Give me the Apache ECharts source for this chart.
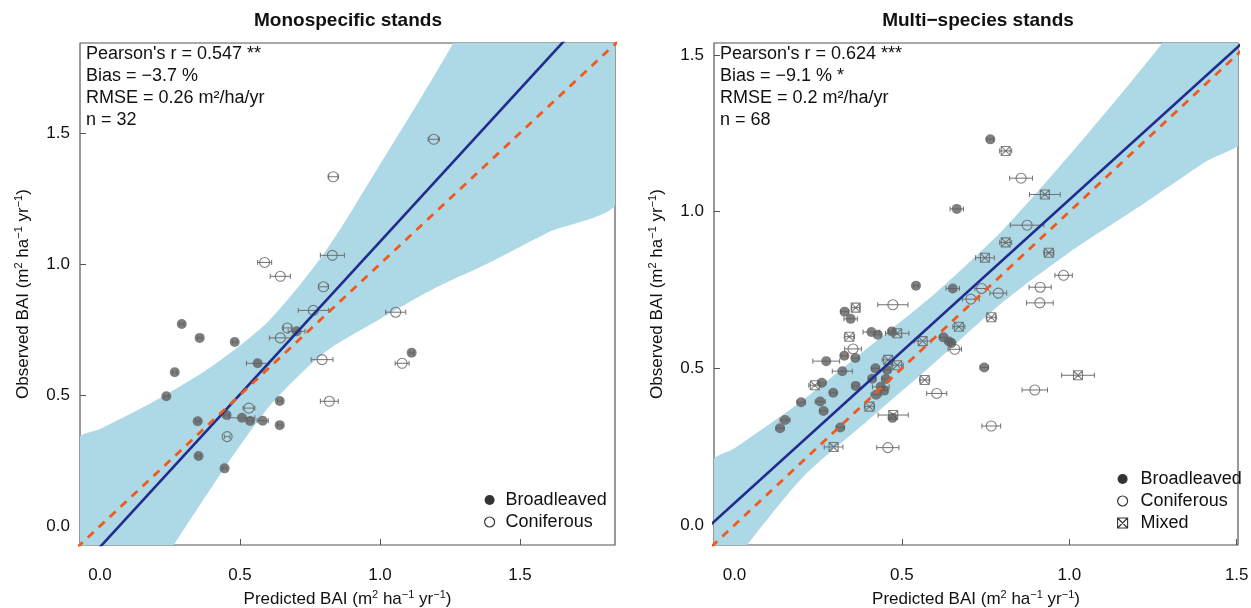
<!DOCTYPE html>
<html>
<head>
<meta charset="utf-8">
<script src="https://cdn.jsdelivr.net/npm/echarts@6/dist/echarts.min.js"></script>
<style>
  html, body { margin: 0; padding: 0; background: #fff; }
  #chart { width: 1251px; height: 608px; }
</style>
</head>
<body>
<div id="chart"></div>
<script>
// ---- Monospecific stands: [predicted, observed, half-width of predicted range]
const monoBroadleaved = [
  [0.292,0.771,0.008],[0.356,0.718,0.008],[0.481,0.702,0.008],[0.267,0.587,0.008],
  [0.237,0.495,0.008],[0.563,0.621,0.040],[0.702,0.743,0.030],[0.642,0.477,0.008],
  [0.642,0.385,0.008],[0.452,0.424,0.010],[0.349,0.400,0.008],[0.507,0.413,0.046],
  [0.536,0.401,0.010],[0.581,0.402,0.020],[0.352,0.267,0.008],[0.445,0.220,0.008],
  [1.113,0.661,0.008]
];
const monoConiferous = [
  [0.588,1.006,0.025],[0.644,0.953,0.036],[0.830,1.033,0.043],[0.798,0.913,0.018],
  [0.762,0.823,0.054],[0.669,0.756,0.014],[0.644,0.718,0.039],[0.793,0.635,0.039],
  [0.819,0.476,0.032],[0.532,0.450,0.021],[0.454,0.341,0.010],[1.192,1.476,0.020],
  [0.833,1.333,0.018],[1.056,0.816,0.036],[1.079,0.621,0.025]
];
// ---- Multi-species stands
const multiBroadleaved = [
  [0.764,1.231,0.010],[0.664,1.009,0.020],[0.542,0.764,0.008],[0.652,0.755,0.020],
  [0.329,0.681,0.012],[0.347,0.658,0.020],[0.409,0.616,0.025],[0.428,0.607,0.010],
  [0.470,0.618,0.010],[0.624,0.599,0.012],[0.641,0.586,0.012],[0.648,0.581,0.010],
  [0.328,0.540,0.010],[0.361,0.533,0.010],[0.274,0.523,0.040],[0.322,0.491,0.030],
  [0.421,0.500,0.012],[0.456,0.495,0.010],[0.411,0.467,0.010],[0.452,0.466,0.012],
  [0.261,0.454,0.012],[0.362,0.444,0.010],[0.437,0.441,0.025],[0.447,0.429,0.010],
  [0.295,0.422,0.010],[0.423,0.416,0.015],[0.199,0.392,0.012],[0.256,0.394,0.015],
  [0.266,0.364,0.012],[0.472,0.342,0.010],[0.316,0.311,0.012],[0.746,0.503,0.012],
  [0.151,0.335,0.015],[0.136,0.309,0.012]
];
const multiConiferous = [
  [0.473,0.703,0.045],[0.738,0.755,0.020],[0.788,0.740,0.025],[0.706,0.721,0.025],
  [0.658,0.561,0.020],[0.354,0.562,0.025],[0.604,0.420,0.030],[0.767,0.316,0.028],
  [0.458,0.247,0.033],[0.856,1.107,0.034],[0.874,0.957,0.050],[0.983,0.797,0.026],
  [0.913,0.759,0.033],[0.912,0.709,0.040],[0.897,0.431,0.038]
];
const multiMixed = [
  [0.362,0.694,0.012],[0.343,0.601,0.015],[0.486,0.612,0.035],[0.562,0.587,0.025],
  [0.459,0.527,0.018],[0.486,0.510,0.018],[0.240,0.446,0.018],[0.568,0.463,0.015],
  [0.670,0.633,0.018],[0.767,0.663,0.015],[0.403,0.378,0.015],[0.474,0.351,0.045],
  [0.296,0.249,0.028],[0.810,1.194,0.018],[0.927,1.055,0.046],[0.810,0.902,0.018],
  [0.939,0.869,0.015],[0.748,0.853,0.028],[1.026,0.478,0.049]
];

// Fitted lines (observed vs predicted) and confidence bands
const monoFit = [[-0.10,-0.197],[1.90,2.134]];
const multiFit = [[-0.10,-0.027],[1.60,1.619]];
const oneToOne = [[-0.2,-0.2],[2.0,2.0]];

const monoBandX     = [-0.08, 0.00, 0.20, 0.40, 0.60, 0.80, 1.00, 1.20, 1.40, 1.60, 1.85];
const monoBandLower = [-0.67,-0.55,-0.18, 0.15, 0.45, 0.66, 0.79, 0.91, 1.01, 1.12, 1.245];
const monoBandUpper = [ 0.33, 0.37, 0.48, 0.61, 0.78, 1.04, 1.38, 1.73, 2.10, 2.50, 2.90];

const multiBandX     = [-0.07, 0.00, 0.20, 0.40, 0.60, 0.80, 1.00, 1.20, 1.40, 1.55];
const multiBandLower = [-0.215,-0.115,0.148,0.335,0.520,0.710,0.870,1.010,1.155,1.255];
const multiBandUpper = [ 0.200, 0.245,0.395,0.567,0.740,0.940,1.180,1.435,1.700,1.900];

const tickValues = [0, 0.5, 1.0, 1.5];

const statsMono = ["Pearson's r = 0.547 **", 'Bias = \u22123.7 %', 'RMSE = 0.26 m\u00b2/ha/yr', 'n = 32'];
const statsMulti = ["Pearson's r = 0.624 ***", 'Bias = \u22129.1 % *', 'RMSE = 0.2 m\u00b2/ha/yr', 'n = 68'];

const FONT = '"Liberation Sans", Arial, Helvetica, sans-serif';
const GREY = '#606060';
const BAR_GREY = '#707070';
const BAND = '#ADD8E6';
const BLUE = '#202C8E';
const ORANGE = '#F2581A';
const MIXED_PATH = 'path://M0,0L10,0L10,10L0,10Z M0,0L10,10 M10,0L0,10';

const chart = echarts.init(document.getElementById('chart'), null, { renderer: 'canvas' });

function bandSeries(xs, lo, hi, idx) {
  return {
    type: 'custom', xAxisIndex: idx, yAxisIndex: idx, clip: true, silent: true, z: 1,
    data: xs.map((x, i) => [x, lo[i], hi[i]]),
    renderItem: function (params, api) {
      if (params.dataIndex !== 0) return null;
      const pts = [];
      for (let i = 0; i < xs.length; i++) pts.push(api.coord([xs[i], hi[i]]));
      for (let i = xs.length - 1; i >= 0; i--) pts.push(api.coord([xs[i], lo[i]]));
      return { type: 'polygon', shape: { points: pts, smooth: 0.25 }, style: { fill: BAND } };
    }
  };
}

function errorBarSeries(points, idx) {
  return {
    type: 'custom', xAxisIndex: idx, yAxisIndex: idx, silent: true, z: 3,
    data: points,
    renderItem: function (params, api) {
      const x = api.value(0), y = api.value(1), e = api.value(2);
      const a = api.coord([x - e, y]), b = api.coord([x + e, y]);
      const s = { stroke: BAR_GREY, lineWidth: 1 };
      return {
        type: 'group', children: [
          { type: 'line', shape: { x1: a[0], y1: a[1], x2: b[0], y2: b[1] }, style: s },
          { type: 'line', shape: { x1: a[0], y1: a[1] - 2.5, x2: a[0], y2: a[1] + 2.5 }, style: s },
          { type: 'line', shape: { x1: b[0], y1: b[1] - 2.5, x2: b[0], y2: b[1] + 2.5 }, style: s }
        ]
      };
    }
  };
}

function pointSeries(name, points, idx, kind) {
  const base = {
    name: name, type: 'scatter', xAxisIndex: idx, yAxisIndex: idx, z: 4,
    data: points.map(p => [p[0], p[1]])
  };
  if (kind === 'filled') {
    base.symbol = 'circle'; base.symbolSize = 10;
    base.itemStyle = { color: GREY };
  } else if (kind === 'open') {
    base.symbol = 'circle'; base.symbolSize = 10;
    base.itemStyle = { color: 'rgba(0,0,0,0)', borderColor: GREY, borderWidth: 1.1 };
  } else {
    base.symbol = MIXED_PATH; base.symbolSize = 9;
    base.itemStyle = { color: 'rgba(0,0,0,0)', borderColor: GREY, borderWidth: 1.1 };
  }
  base.emphasis = { disabled: true };
  return base;
}

function lineSeries(data, idx, color, dashed) {
  return {
    type: 'line', xAxisIndex: idx, yAxisIndex: idx, data: data, symbol: 'none',
    silent: true, z: 5, clip: true,
    lineStyle: dashed ? { color: color, width: 2.8, type: [8, 7] } : { color: color, width: 2.6 }
  };
}

const supRich = { sup: { fontSize: 11, verticalAlign: 'top', color: '#111', fontFamily: FONT, lineHeight: 20 } };

function xAxisCfg(idx, min, max) {
  return {
    type: 'value', gridIndex: idx, min: min, max: max,
    axisLine: { show: false, onZero: false }, splitLine: { show: false },
    axisTick: { show: true, inside: true, length: 6, customValues: tickValues, lineStyle: { color: '#555', width: 1 } },
    axisLabel: { customValues: tickValues, formatter: v => v.toFixed(1), fontSize: 17, color: '#111', fontFamily: FONT, margin: 22 },
    name: 'Predicted BAI (m{sup|2} ha{sup|\u22121} yr{sup|\u22121})',
    nameLocation: 'middle', nameGap: 44,
    nameTextStyle: { fontSize: 17, color: '#111', fontFamily: FONT, lineHeight: 20, rich: supRich }
  };
}
function yAxisCfg(idx, min, max) {
  return {
    type: 'value', gridIndex: idx, min: min, max: max,
    axisLine: { show: false, onZero: false }, splitLine: { show: false },
    axisTick: { show: true, inside: true, length: 6, customValues: tickValues, lineStyle: { color: '#555', width: 1 } },
    axisLabel: { customValues: tickValues, formatter: v => v.toFixed(1), fontSize: 17, color: '#111', fontFamily: FONT, margin: 10 },
    name: 'Observed BAI (m{sup|2} ha{sup|\u22121} yr{sup|\u22121})',
    nameLocation: 'middle', nameGap: 47, nameRotate: 90,
    nameTextStyle: { fontSize: 17, color: '#111', fontFamily: FONT, lineHeight: 20, rich: supRich }
  };
}

function legendCfg(left, top, names, gap) {
  const items = {
    Broadleaved: { name: 'Broadleaved', icon: 'circle', itemStyle: { color: '#000', borderWidth: 0 } },
    Coniferous: { name: 'Coniferous', icon: 'circle', itemStyle: { color: '#fff', borderColor: '#000', borderWidth: 1.2 } },
    Mixed: { name: 'Mixed', icon: MIXED_PATH, itemStyle: { color: '#fff', borderColor: '#000', borderWidth: 1.1 } }
  };
  return {
    orient: 'vertical', left: left, top: top, itemWidth: 10, itemHeight: 10, itemGap: 4,
    selectedMode: false, padding: 0,
    textStyle: { fontSize: 18, color: '#111', fontFamily: FONT, lineHeight: 18, padding: [0, 0, 0, gap] },
    data: names.map(n => items[n])
  };
}

function textBlock(x, y, lines) {
  return {
    type: 'text', x: x, y: y, silent: true, z: 10,
    style: { text: lines.join('\n'), font: '18px ' + FONT, fill: '#111', lineHeight: 22, align: 'left', verticalAlign: 'top' }
  };
}
function titleText(x, y, text) {
  return {
    type: 'text', x: x, y: y, silent: true,
    style: { text: text, font: 'bold 19px ' + FONT, fill: '#111', align: 'center', verticalAlign: 'middle' }
  };
}

const option = {
  backgroundColor: '#fff',
  animation: false,
  grid: [
    { left: 80, top: 43, width: 535, height: 502, outerBoundsMode: 'none', containLabel: false,
      show: true, borderColor: '#555', borderWidth: 1.2, backgroundColor: 'transparent' },
    { left: 714, top: 43, width: 524, height: 502, outerBoundsMode: 'none', containLabel: false,
      show: true, borderColor: '#555', borderWidth: 1.2, backgroundColor: 'transparent' }
  ],
  xAxis: [xAxisCfg(0, -0.0714, 1.8393), xAxisCfg(1, -0.0612, 1.5039)],
  yAxis: [yAxisCfg(0, -0.0725, 1.8435), yAxisCfg(1, -0.0638, 1.5385)],
  legend: [
    legendCfg(484, 491, ['Broadleaved', 'Coniferous'], 6),
    legendCfg(1117, 470, ['Broadleaved', 'Coniferous', 'Mixed'], 8)
  ],
  graphic: [
    titleText(348, 21, 'Monospecific stands'),
    titleText(978, 21, 'Multi\u2212species stands'),
    textBlock(86, 43, statsMono),
    textBlock(720, 43, statsMulti)
  ],
  series: [
    bandSeries(monoBandX, monoBandLower, monoBandUpper, 0),
    bandSeries(multiBandX, multiBandLower, multiBandUpper, 1),
    errorBarSeries(monoBroadleaved.concat(monoConiferous), 0),
    errorBarSeries(multiBroadleaved.concat(multiConiferous, multiMixed), 1),
    pointSeries('Broadleaved', monoBroadleaved, 0, 'filled'),
    pointSeries('Coniferous', monoConiferous, 0, 'open'),
    pointSeries('Broadleaved', multiBroadleaved, 1, 'filled'),
    pointSeries('Coniferous', multiConiferous, 1, 'open'),
    pointSeries('Mixed', multiMixed, 1, 'mixed'),
    lineSeries(monoFit, 0, BLUE, false),
    lineSeries(oneToOne, 0, ORANGE, true),
    lineSeries(multiFit, 1, BLUE, false),
    lineSeries(oneToOne, 1, ORANGE, true)
  ]
};
chart.setOption(option);
</script>
</body>
</html>
